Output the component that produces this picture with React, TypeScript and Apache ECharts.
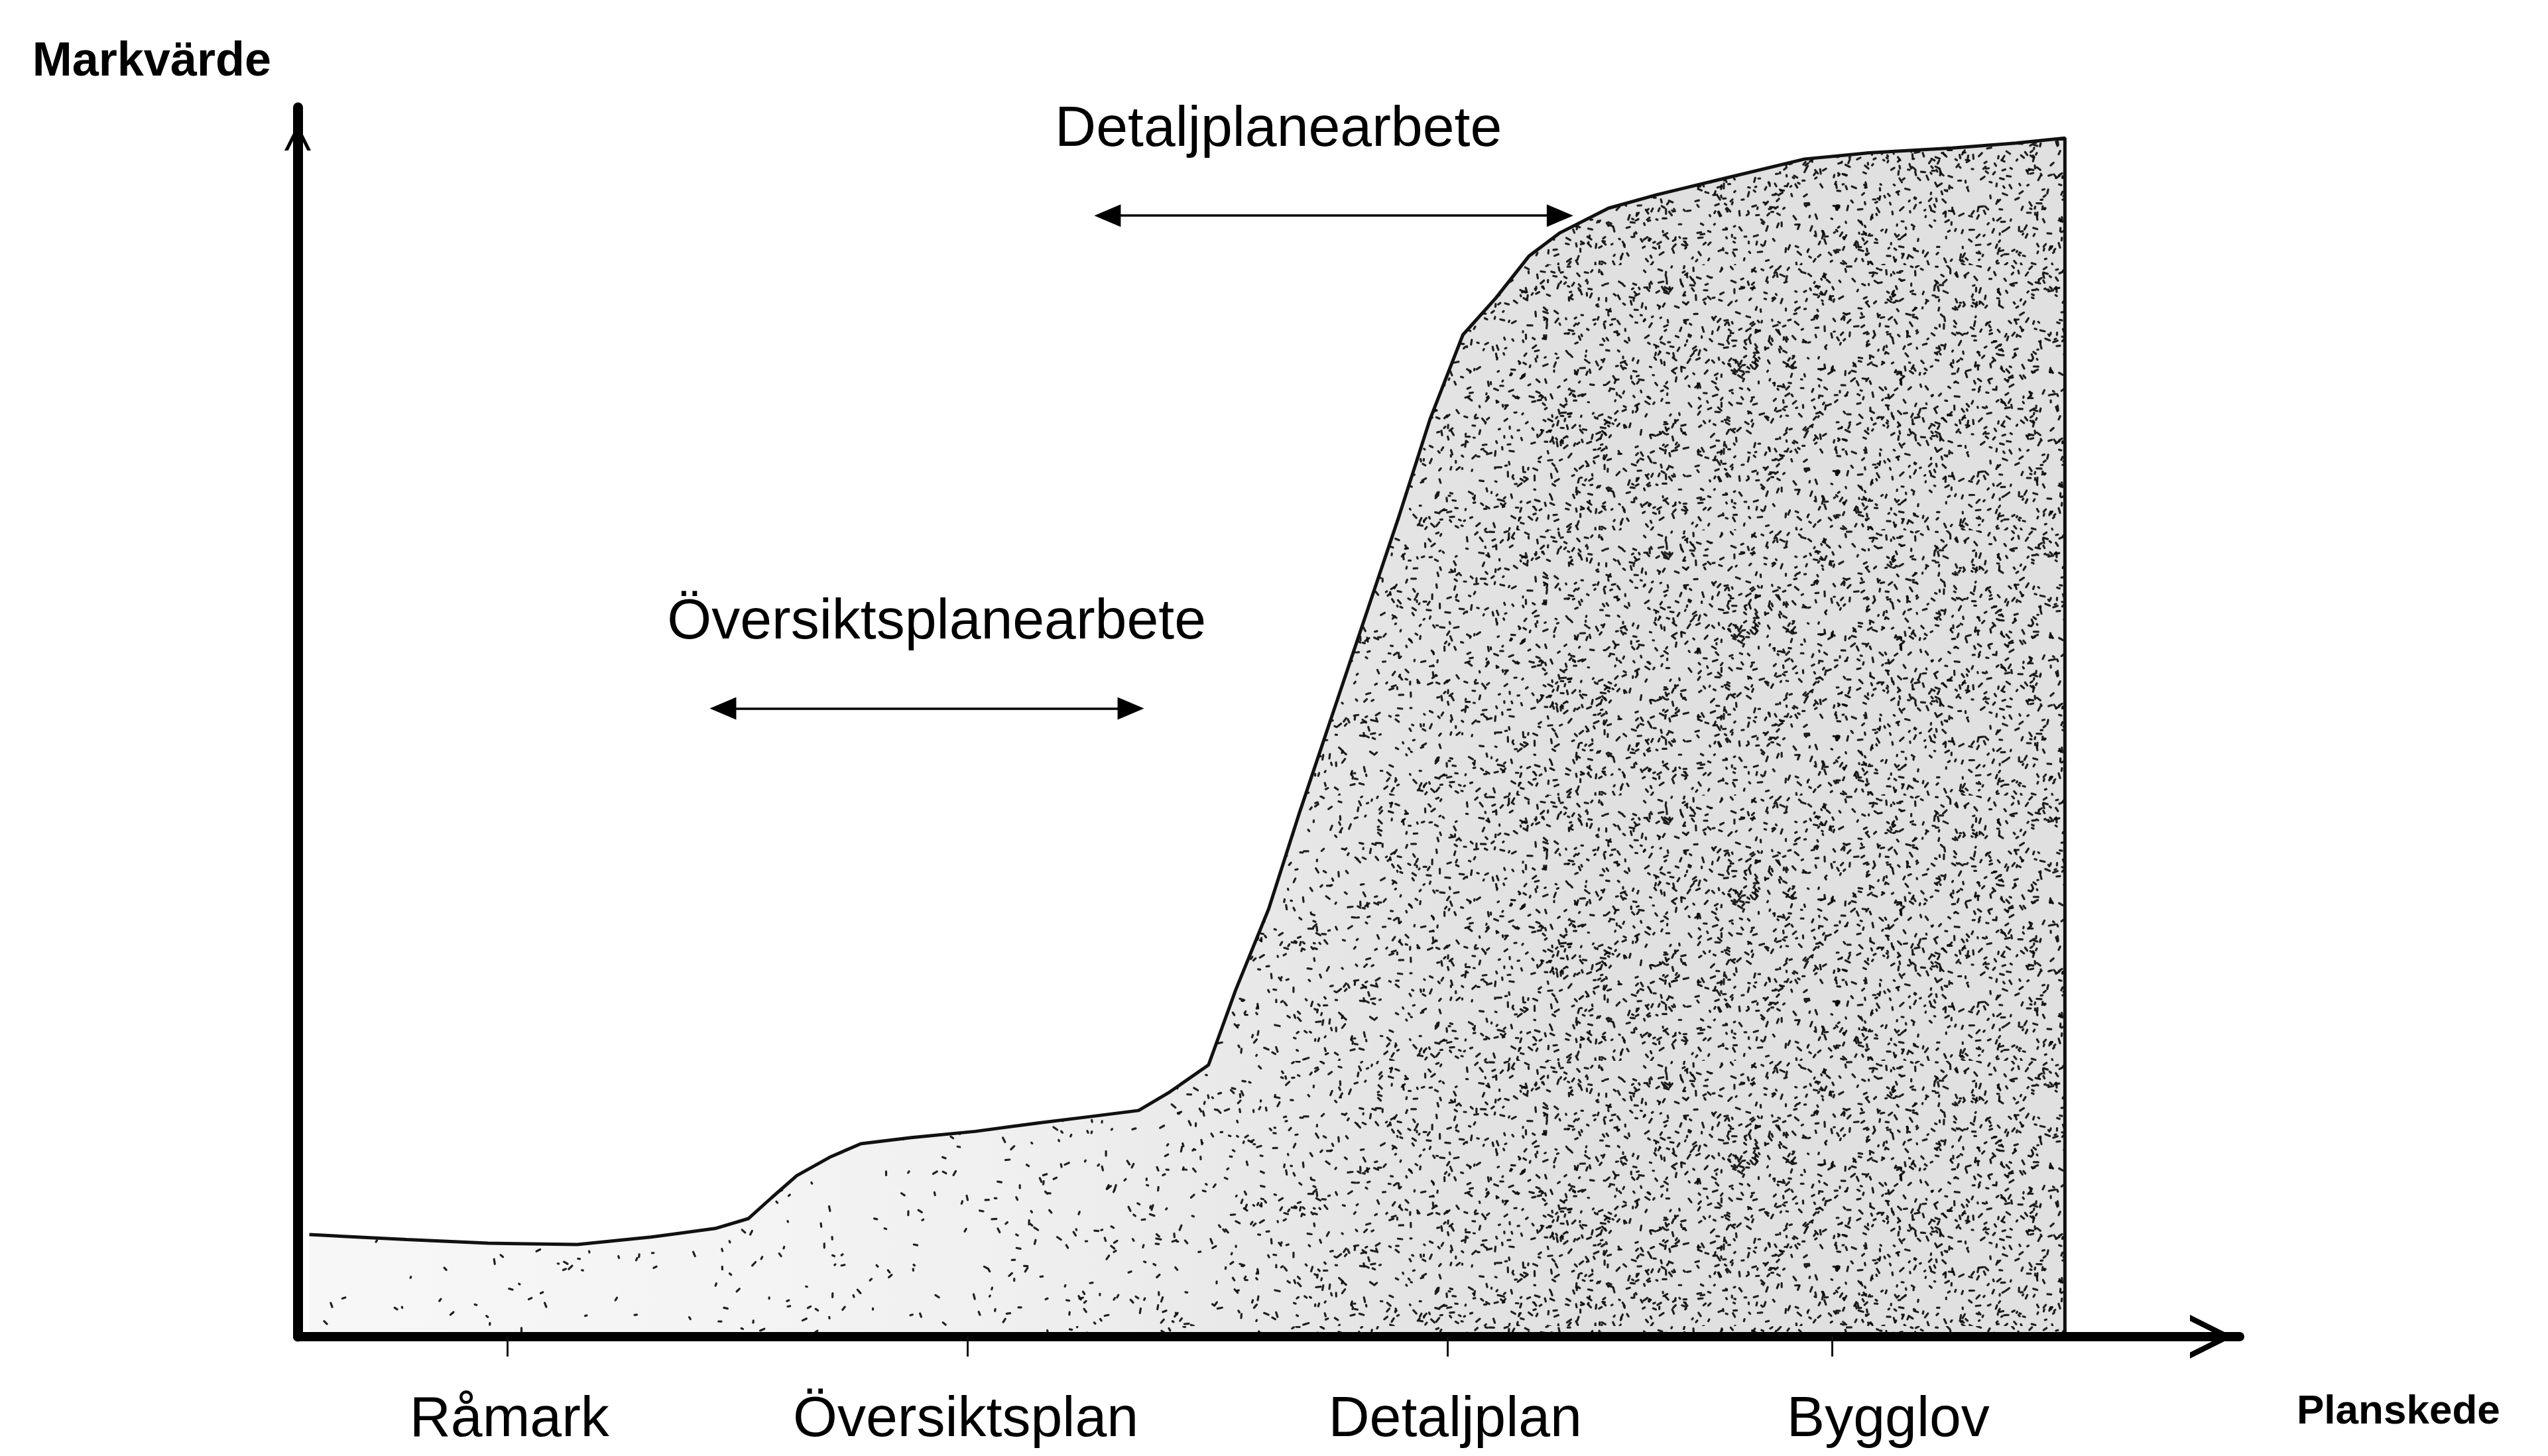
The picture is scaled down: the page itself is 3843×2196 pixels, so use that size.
import React, { useEffect, useRef } from "react";
import * as echarts from "echarts";

// ---- data ----
const yAxisTitle = "Markvärde";
const xAxisTitle = "Planskede";

const stageNames = ["Råmark", "Översiktsplan", "Detaljplan", "Bygglov"];
const stageTickPos = [10.8, 34.5, 59.2, 79.0];
const stageLabelPos = [10.9, 34.4, 59.6, 81.9];

// land value curve (x: planning progress 0-100, y: land value 0-100)
const curveX = [0.6, 5.6, 9.8, 14.4, 18.2, 21.5, 23.2, 24.4, 25.7, 27.4, 29.0, 31.6, 34.9, 38.2, 40.8, 43.3, 44.9, 46.9, 48.3, 50.0, 51.6, 53.3, 55.0, 56.7, 58.3, 60.0, 61.7, 63.4, 65.0, 67.5, 70.0, 73.4, 77.6, 80.9, 85.2, 88.5, 91.0, 91.0];
const curveY = [8.3, 7.9, 7.6, 7.5, 8.1, 8.8, 9.6, 11.3, 13.1, 14.6, 15.7, 16.2, 16.7, 17.4, 17.9, 18.4, 19.9, 22.1, 28.2, 34.8, 42.7, 50.7, 58.7, 66.7, 74.6, 81.5, 84.5, 87.9, 89.8, 91.8, 92.9, 94.2, 95.8, 96.3, 96.7, 97.1, 97.5, 0];

const annotationNames = ["Översiktsplanearbete", "Detaljplanearbete"];
const annotationTextX = [32.9, 50.5];
const annotationTextY = [58.4, 98.5];
const spanStart = [21.9, 41.7];
const spanEnd = [42.9, 65.0];
const spanY = [51.1, 91.2];

// ---- texture style (stipple) ----
const texStopX = [0, 449, 1100, 1500, 1800, 2100, 2400, 3843];
const texDensity = [0.0004, 0.0004, 0.0006, 0.0009, 0.002, 0.004, 0.0058, 0.0058];
const texShade = [247, 247, 244, 240, 234, 228, 224, 224];

const FONT = "'Liberation Sans', Arial, sans-serif";

function interp(xs: number[], ys: number[], x: number) {
  if (x <= xs[0]) return ys[0];
  for (let i = 1; i < xs.length; i++) {
    if (x <= xs[i]) {
      const t = (x - xs[i - 1]) / (xs[i] - xs[i - 1]);
      return ys[i - 1] + t * (ys[i] - ys[i - 1]);
    }
  }
  return ys[ys.length - 1];
}

function makeStipple(width: number, height: number): string {
  const c = document.createElement("canvas");
  c.width = width;
  c.height = height;
  const ctx = c.getContext("2d")!;
  const g = ctx.createLinearGradient(0, 0, width, 0);
  for (let i = 0; i < texStopX.length; i++) {
    const s = Math.round(texShade[i]);
    g.addColorStop(Math.min(1, texStopX[i] / width), `rgb(${s},${s},${s})`);
  }
  ctx.fillStyle = g;
  ctx.fillRect(0, 0, width, height);
  let seed = 987654321;
  const rnd = () => {
    seed = (Math.imul(seed, 1664525) + 1013904223) >>> 0;
    return seed / 4294967296;
  };
  const dMax = Math.max(...texDensity);
  const n = Math.round(width * height * dMax);
  ctx.strokeStyle = "rgba(10,10,10,0.9)";
  ctx.lineWidth = 3.2;
  ctx.lineCap = "round";
  for (let i = 0; i < n; i++) {
    const x = rnd() * width;
    const y = rnd() * height;
    const a = rnd();
    const l = 1.5 + rnd() * 6;
    const ang = rnd() * Math.PI;
    if (a > interp(texStopX, texDensity, x) / dMax) continue;
    ctx.beginPath();
    ctx.moveTo(x, y);
    ctx.lineTo(x + Math.cos(ang) * l, y + Math.sin(ang) * l);
    ctx.stroke();
  }
  return c.toDataURL("image/png");
}

const CHEVRON = "path://M0,100 L50,0 L100,100 L86,100 L50,28 L14,100 Z";

export default function App() {
  const ref = useRef<HTMLDivElement>(null);
  useEffect(() => {
    if (!ref.current) return;
    const chart = echarts.init(ref.current, null, { renderer: "svg" });
    const texW = 3843;
    const texH = 400;
    const stipple = makeStipple(texW, texH);

    const nearest = (arr: number[], v: number) => {
      let best = 0;
      for (let i = 1; i < arr.length; i++) if (Math.abs(arr[i] - v) < Math.abs(arr[best] - v)) best = i;
      return best;
    };

    chart.setOption({
      animation: false,
      backgroundColor: "#ffffff",
      grid: { left: 449, right: 465, top: 162, bottom: 180, containLabel: false, outerBoundsMode: "none" },
      xAxis: {
        type: "value",
        min: 0,
        max: 100,
        z: 10,
        name: xAxisTitle,
        nameLocation: "end",
        nameGap: 86,
        nameMoveOverlap: false,
        nameTextStyle: {
          fontFamily: FONT,
          fontWeight: "bold",
          fontSize: 62,
          color: "#000",
          verticalAlign: "top",
          padding: [78, 0, 0, 0],
        },
        axisLine: {
          show: true,
          onZero: false,
          symbol: ["none", CHEVRON],
          symbolSize: [66, 67],
          symbolOffset: [0, -42],
          lineStyle: { color: "#000", width: 14 },
        },
        axisTick: {
          show: true,
          customValues: stageTickPos,
          length: 30,
          lineStyle: { color: "#111", width: 3 },
        },
        axisLabel: {
          show: true,
          customValues: stageLabelPos,
          margin: 76,
          lineHeight: 88,
          fontFamily: FONT,
          fontSize: 86,
          color: "#000",
          formatter: (v: number) => stageNames[nearest(stageLabelPos, v)],
        },
        splitLine: { show: false },
      },
      yAxis: {
        type: "value",
        min: 0,
        max: 100,
        z: 10,
        name: yAxisTitle,
        nameLocation: "end",
        nameGap: 37,
        nameMoveOverlap: false,
        nameTextStyle: {
          fontFamily: FONT,
          fontWeight: "bold",
          fontSize: 72,
          color: "#000",
          align: "right",
          padding: [0, 40, 0, 0],
        },
        axisLine: {
          show: true,
          onZero: false,
          symbol: ["none", CHEVRON],
          symbolSize: [72, 40],
          symbolOffset: [0, -45],
          lineStyle: { color: "#000", width: 15 },
        },
        axisTick: { show: false },
        axisLabel: { show: false },
        splitLine: { show: false },
      },
      series: [
        {
          type: "line",
          data: curveX.map((x, i) => [x, curveY[i]]),
          symbol: "none",
          smooth: false,
          silent: true,
          lineStyle: { color: "#111", width: 5 },
          areaStyle: {
            color: { image: stipple, repeat: "repeat", imageWidth: texW, imageHeight: texH },
            opacity: 1,
          },
          z: 2,
        },
        {
          type: "scatter",
          data: annotationNames.map((n, i) => ({ name: n, value: [annotationTextX[i], annotationTextY[i]] })),
          symbolSize: 1,
          silent: true,
          itemStyle: { color: "rgba(0,0,0,0)", opacity: 1 },
          label: {
            show: true,
            position: "inside",
            formatter: "{b}",
            fontFamily: FONT,
            fontSize: 86,
            color: "#000",
            opacity: 1,
          },
          markLine: {
            silent: true,
            symbol: ["triangle", "triangle"],
            symbolSize: [34, 40],
            label: { show: false },
            lineStyle: { color: "#000", width: 3.5, type: "solid", opacity: 1 },
            data: spanStart.map((s, i) => [
              { coord: [s, spanY[i]] },
              { coord: [spanEnd[i], spanY[i]] },
            ]),
          },
          z: 5,
        },
      ],
    });
    return () => chart.dispose();
  }, []);
  return (
    <div
      ref={ref}
      style={{ position: "fixed", left: 0, top: 0, width: "3843px", height: "2196px", background: "#fff" }}
    />
  );
}
